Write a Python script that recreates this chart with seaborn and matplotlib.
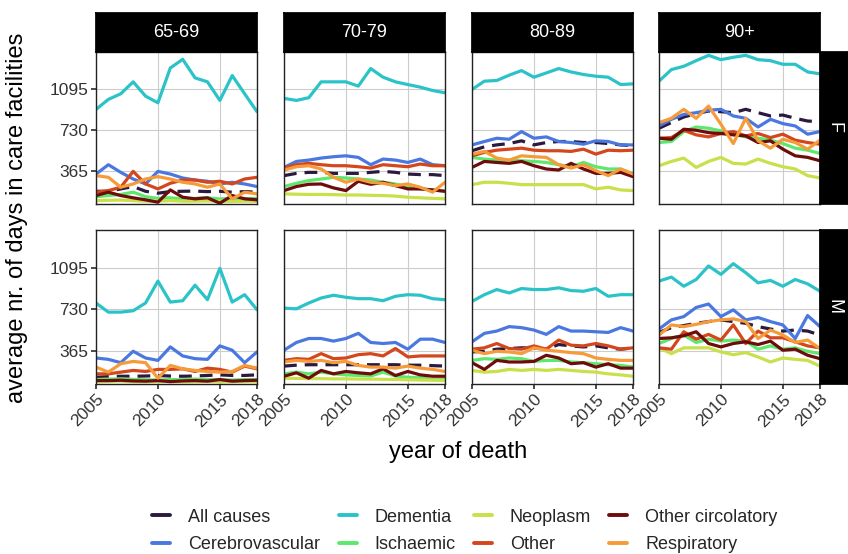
import numpy as np
import pandas as pd
import matplotlib
matplotlib.use("Agg")
import matplotlib.pyplot as plt
from matplotlib.lines import Line2D
import seaborn as sns

years = list(range(2005, 2019))
ages = ["65-69", "70-79", "80-89", "90+"]
sexes = ["F", "M"]
causes = ["All causes", "Cerebrovascular", "Dementia", "Ischaemic",
          "Neoplasm", "Other", "Other circolatory", "Respiratory"]

# average days per cause, one dict per panel (sex, age group)
F_65_69 = {
    "All causes":        [188, 188, 209, 230, 188, 171, 185, 188, 190, 185, 188, 180, 185, 180],
    "Cerebrovascular":   [341, 424, 356, 297, 253, 365, 341, 306, 288, 277, 253, 268, 253, 230],
    "Dementia":          [915, 1004, 1054, 1160, 1033, 974, 1283, 1360, 1195, 1160, 995, 1216, 1054, 895],
    "Ischaemic":         [140, 150, 160, 180, 140, 125, 130, 120, 125, 130, 120, 125, 120, 125],
    "Neoplasm":          [105, 108, 110, 105, 100, 100, 105, 100, 100, 102, 100, 98, 100, 98],
    "Other":             [180, 194, 224, 365, 253, 209, 259, 288, 288, 268, 277, 253, 297, 312],
    "Other circolatory": [150, 180, 150, 130, 112, 91, 200, 135, 121, 130, 82, 150, 121, 112],
    "Respiratory":       [327, 312, 224, 253, 297, 318, 297, 268, 253, 224, 253, 121, 180, 165],
}
F_70_79 = {
    "All causes":        [327, 347, 356, 356, 347, 347, 347, 356, 365, 356, 341, 336, 336, 327],
    "Cerebrovascular":   [400, 453, 465, 483, 495, 503, 489, 424, 474, 465, 444, 474, 424, 415],
    "Dementia":          [1013, 995, 1019, 1160, 1160, 1160, 1122, 1278, 1201, 1160, 1136, 1113, 1083, 1063],
    "Ischaemic":         [230, 259, 283, 297, 312, 306, 297, 288, 268, 253, 224, 209, 200, 188],
    "Neoplasm":          [165, 162, 160, 160, 158, 155, 155, 152, 150, 145, 135, 130, 125, 121],
    "Other":             [394, 424, 436, 424, 415, 415, 406, 394, 424, 415, 406, 430, 415, 415],
    "Other circolatory": [194, 230, 250, 253, 218, 194, 277, 250, 268, 238, 209, 209, 200, 188],
    "Respiratory":       [377, 406, 415, 386, 312, 268, 297, 268, 259, 238, 253, 224, 180, 268],
}
F_80_89 = {
    "All causes":        [548, 583, 600, 612, 636, 600, 621, 630, 630, 621, 621, 612, 600, 592],
    "Cerebrovascular":   [600, 630, 659, 650, 718, 659, 671, 630, 621, 606, 636, 630, 600, 600],
    "Dementia":          [1092, 1166, 1172, 1219, 1260, 1201, 1239, 1278, 1248, 1225, 1210, 1201, 1136, 1142],
    "Ischaemic":         [489, 474, 465, 465, 459, 453, 444, 424, 406, 444, 406, 386, 386, 341],
    "Neoplasm":          [247, 268, 268, 259, 247, 247, 247, 247, 247, 247, 209, 224, 200, 194],
    "Other":             [503, 533, 553, 562, 571, 553, 548, 548, 542, 562, 518, 553, 548, 553],
    "Other circolatory": [400, 453, 444, 436, 453, 415, 386, 377, 436, 386, 347, 347, 356, 318],
    "Respiratory":       [518, 542, 483, 465, 503, 495, 489, 424, 394, 424, 371, 327, 386, 341],
}
F_90 = {
    "All causes":        [748, 798, 848, 877, 901, 895, 886, 916, 886, 857, 865, 836, 812, 806],
    "Cerebrovascular":   [768, 827, 871, 886, 907, 916, 857, 836, 759, 827, 789, 768, 695, 718],
    "Dementia":          [1166, 1269, 1298, 1348, 1395, 1357, 1378, 1395, 1357, 1348, 1316, 1316, 1248, 1231],
    "Ischaemic":         [621, 630, 718, 759, 748, 724, 695, 671, 659, 642, 612, 571, 553, 524],
    "Neoplasm":          [415, 453, 483, 400, 453, 489, 436, 430, 474, 436, 406, 386, 327, 306],
    "Other":             [659, 665, 730, 689, 671, 701, 718, 680, 701, 665, 695, 642, 621, 606],
    "Other circolatory": [659, 650, 739, 730, 709, 701, 689, 680, 621, 636, 562, 503, 489, 459],
    "Respiratory":       [798, 836, 916, 836, 945, 783, 612, 836, 636, 571, 650, 621, 562, 642],
}
M_65_69 = {
    "All causes":        [134, 140, 143, 143, 145, 149, 145, 143, 145, 150, 155, 150, 150, 155],
    "Cerebrovascular":   [303, 291, 262, 362, 303, 282, 400, 321, 297, 291, 409, 371, 262, 356],
    "Dementia":          [785, 705, 705, 717, 785, 977, 793, 805, 941, 814, 1089, 793, 858, 726],
    "Ischaemic":         [114, 118, 120, 115, 112, 110, 114, 112, 118, 115, 112, 110, 114, 112],
    "Neoplasm":          [96, 98, 100, 96, 95, 98, 96, 95, 96, 98, 95, 96, 98, 96],
    "Other":             [164, 164, 179, 194, 185, 203, 203, 208, 185, 214, 203, 179, 232, 208],
    "Other circolatory": [105, 105, 108, 102, 100, 105, 96, 102, 105, 100, 114, 100, 105, 108],
    "Respiratory":       [223, 179, 253, 273, 262, 126, 238, 208, 194, 185, 179, 185, 238, 214],
}
M_70_79 = {
    "All causes":        [232, 240, 244, 244, 244, 244, 244, 244, 244, 244, 240, 240, 236, 232],
    "Cerebrovascular":   [371, 439, 474, 474, 451, 474, 519, 439, 430, 439, 380, 468, 468, 439],
    "Dementia":          [740, 734, 785, 829, 853, 835, 823, 823, 805, 844, 858, 853, 823, 814],
    "Ischaemic":         [164, 179, 164, 179, 164, 155, 150, 145, 179, 145, 134, 130, 114, 114],
    "Neoplasm":          [126, 124, 122, 122, 120, 120, 118, 118, 116, 115, 112, 110, 108, 105],
    "Other":             [282, 297, 291, 341, 297, 303, 332, 341, 321, 386, 312, 321, 321, 321],
    "Other circolatory": [143, 173, 126, 194, 164, 185, 173, 164, 208, 149, 185, 155, 143, 143],
    "Respiratory":       [268, 282, 273, 282, 262, 273, 238, 223, 223, 214, 232, 214, 203, 185],
}
M_80_89 = {
    "All causes":        [356, 362, 380, 386, 392, 392, 380, 421, 409, 400, 409, 392, 380, 392],
    "Cerebrovascular":   [445, 519, 539, 578, 569, 548, 510, 578, 539, 539, 533, 527, 569, 539],
    "Dementia":          [799, 858, 903, 873, 912, 903, 903, 918, 894, 888, 912, 844, 858, 858],
    "Ischaemic":         [282, 297, 291, 303, 297, 273, 282, 282, 268, 262, 253, 244, 238, 223],
    "Neoplasm":          [194, 179, 185, 203, 194, 203, 194, 203, 194, 185, 179, 164, 155, 143],
    "Other":             [380, 392, 430, 386, 380, 409, 380, 460, 415, 409, 430, 409, 380, 392],
    "Other circolatory": [262, 203, 282, 268, 268, 273, 327, 303, 253, 262, 223, 253, 214, 214],
    "Respiratory":       [371, 341, 362, 356, 341, 392, 371, 362, 350, 341, 303, 291, 282, 282],
}
M_90 = {
    "All causes":        [528, 569, 587, 607, 622, 637, 622, 607, 578, 557, 539, 548, 539, 504],
    "Cerebrovascular":   [557, 637, 666, 746, 776, 666, 725, 637, 658, 622, 593, 474, 675, 578],
    "Dementia":          [977, 1012, 932, 991, 1110, 1036, 1130, 1051, 962, 983, 932, 991, 953, 888],
    "Ischaemic":         [430, 474, 504, 439, 468, 451, 460, 451, 380, 409, 380, 392, 362, 341],
    "Neoplasm":          [392, 341, 392, 392, 392, 356, 332, 350, 312, 268, 303, 291, 282, 232],
    "Other":             [392, 380, 533, 468, 510, 460, 593, 430, 539, 480, 480, 445, 409, 392],
    "Other circolatory": [474, 480, 498, 533, 430, 400, 430, 445, 421, 451, 371, 380, 327, 297],
    "Respiratory":       [504, 593, 578, 598, 622, 637, 646, 622, 474, 548, 504, 439, 460, 386],
}

panels = {
    ("F", "65-69"): F_65_69, ("F", "70-79"): F_70_79,
    ("F", "80-89"): F_80_89, ("F", "90+"): F_90,
    ("M", "65-69"): M_65_69, ("M", "70-79"): M_70_79,
    ("M", "80-89"): M_80_89, ("M", "90+"): M_90,
}

rows = []
for (sex, age), d in panels.items():
    for cause in causes:
        for yr, v in zip(years, d[cause]):
            rows.append((sex, age, cause, yr, v))
df = pd.DataFrame(rows, columns=["sex", "age", "cause", "year", "days"])

palette = {
    "All causes": "#2b1a3d",
    "Cerebrovascular": "#4a78e0",
    "Dementia": "#2bc3c8",
    "Ischaemic": "#5ce86c",
    "Neoplasm": "#c9e04a",
    "Other": "#d4461c",
    "Other circolatory": "#6e0c0c",
    "Respiratory": "#f69b3a",
}
dashes = {c: "" for c in causes}
dashes["All causes"] = (4, 2.5)

sns.set_theme(style="white")
plt.rcParams["font.family"] = ["Liberation Sans", "DejaVu Sans"]

W, H = 848, 554
fig = plt.figure(figsize=(W / 100, H / 100), dpi=100)


def fbox(x0, y0, x1, y1):
    return [x0 / W, 1 - y1 / H, (x1 - x0) / W, (y1 - y0) / H]


col_x = [(96, 257), (284, 445), (472, 633), (659, 820)]
row_y = [(52, 204), (230, 384)]

for r, sex in enumerate(sexes):
    for c, age in enumerate(ages):
        ax = fig.add_axes(fbox(col_x[c][0], row_y[r][0], col_x[c][1], row_y[r][1]))
        sub = df[(df.sex == sex) & (df.age == age)]
        sns.lineplot(data=sub, x="year", y="days", hue="cause", style="cause",
                     hue_order=causes, style_order=causes, palette=palette,
                     dashes=dashes, linewidth=2.3, legend=False, ax=ax)
        ax.set_xlim(2005, 2018)
        ax.set_ylim(75, 1425)
        ax.set_xticks([2005, 2010, 2015, 2018])
        ax.set_yticks([365, 730, 1095])
        ax.grid(True, color="#cccccc", linewidth=0.8)
        ax.set_axisbelow(True)
        for s in ax.spines.values():
            s.set_color("#222222")
            s.set_linewidth(1.0)
        ax.tick_params(axis="both", length=3.5, color="#333333", labelsize=12.5,
                       labelcolor="#333333", pad=2, bottom=(r == 1), left=(c == 0))
        ax.set_xlabel("")
        ax.set_ylabel("")
        if c != 0:
            ax.set_yticklabels([])
        if r != 1:
            ax.set_xticklabels([])
        else:
            for lab in ax.get_xticklabels():
                lab.set_rotation(45)
                lab.set_ha("right")
                lab.set_va("top")
                lab.set_rotation_mode("anchor")

# strips on top
for c, age in enumerate(ages):
    sax = fig.add_axes(fbox(col_x[c][0], 13, col_x[c][1], 52))
    sax.set_facecolor("black")
    sax.set_xticks([])
    sax.set_yticks([])
    for s in sax.spines.values():
        s.set_color("black")
    sax.text(0.5, 0.5, age, color="white", fontsize=13, ha="center", va="center",
             transform=sax.transAxes)

# strips on right
for r, sex in enumerate(sexes):
    sax = fig.add_axes(fbox(820, row_y[r][0], 848, row_y[r][1]))
    sax.set_facecolor("black")
    sax.set_xticks([])
    sax.set_yticks([])
    for s in sax.spines.values():
        s.set_color("black")
    sax.text(0.5, 0.5, sex, color="white", fontsize=13, ha="center", va="center",
             rotation=-90, transform=sax.transAxes)

fig.text(17 / W, 1 - 218 / H, "average nr. of days in care facilities", rotation=90,
         fontsize=17, ha="center", va="center", color="black")
fig.text(458 / W, 1 - 452 / H, "year of death", fontsize=17,
         ha="center", va="center", color="black")

handles = [Line2D([0], [0], color=palette[c], lw=2.8) for c in causes]
fig.legend(handles, causes, ncol=4, loc="center", bbox_to_anchor=(465 / W, 1 - 531 / H),
           frameon=False, fontsize=13, handlelength=1.0, handletextpad=1.0,
           columnspacing=1.0, labelspacing=0.6)

fig.savefig("out.png", dpi=100)
